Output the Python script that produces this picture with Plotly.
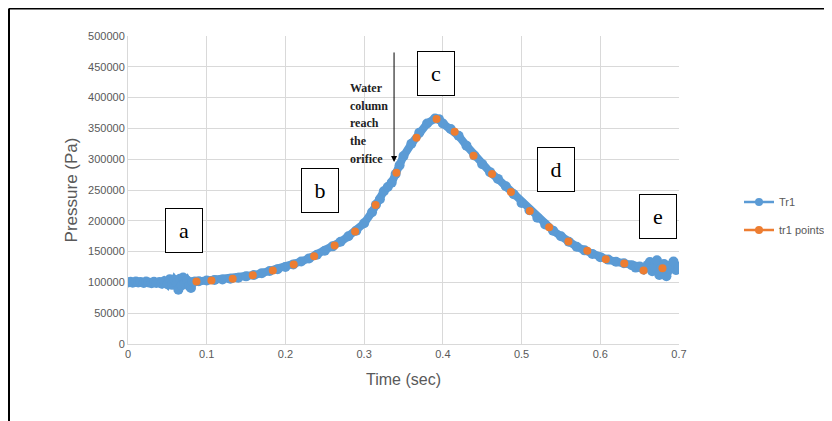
import plotly.graph_objects as go

tr1_t = [0.000, 0.003, 0.006, 0.010, 0.013, 0.016, 0.020, 0.023, 0.026, 0.030,
         0.033, 0.036, 0.040, 0.043, 0.046, 0.050, 0.053, 0.056, 0.059, 0.062,
         0.064, 0.066, 0.068, 0.070, 0.072, 0.075, 0.078, 0.080, 0.082, 0.085,
         0.09, 0.10, 0.11, 0.12, 0.13, 0.14, 0.15, 0.16, 0.17, 0.18,
         0.19, 0.20, 0.21, 0.22, 0.23, 0.24, 0.25, 0.26, 0.27, 0.28,
         0.29, 0.30, 0.31, 0.315, 0.32, 0.325, 0.33, 0.335, 0.34, 0.345,
         0.35, 0.36, 0.37, 0.38, 0.39, 0.395, 0.40, 0.41, 0.42, 0.43,
         0.44, 0.45, 0.46, 0.47, 0.48, 0.49, 0.50, 0.51, 0.52, 0.53,
         0.54, 0.55, 0.56, 0.57, 0.58, 0.59, 0.60, 0.61, 0.62, 0.63,
         0.64, 0.645, 0.65, 0.655, 0.66, 0.663, 0.666, 0.669, 0.672, 0.675,
         0.678, 0.681, 0.684, 0.687, 0.690, 0.693, 0.696, 0.699, 0.700]
tr1_p = [100000, 101000, 99500, 101500, 100000, 100500, 99000, 101500, 100000, 98500,
         101000, 99000, 100500, 98000, 102000, 97000, 105000, 96000, 104000, 99000,
         88000, 106000, 95000, 108000, 98000, 103000, 94000, 91000, 100500, 101500,
         102000, 103000, 104000, 104800, 105800, 107500, 109800, 112000, 115000, 118500,
         121500, 125000, 129000, 134000, 139000, 145000, 151500, 158500, 166000, 175000,
         184000, 196000, 214000, 226000, 235000, 248000, 255000, 262000, 276000, 290000,
         305000, 325000, 343000, 358000, 366000, 365000, 358000, 349000, 338000, 322000,
         306000, 292000, 279000, 268000, 256000, 243000, 229000, 217000, 205000, 194000,
         184000, 175000, 166000, 158000, 152000, 146000, 141000, 137000, 133500, 131000,
         128000, 124000, 126000, 121000, 128000, 133000, 118000, 126000, 136000, 112000,
         124000, 130000, 110000, 122000, 128000, 134000, 120000, 124000, 122000]

# tr1 points (sampled points)
pts_t = [0.087, 0.106, 0.133, 0.1585, 0.184, 0.2105, 0.2365, 0.2625, 0.2885, 0.3145,
         0.341, 0.3665, 0.392, 0.415, 0.439, 0.4625, 0.4865, 0.5105, 0.535, 0.5595,
         0.5835, 0.607, 0.6305, 0.655, 0.679]
pts_p = [101500, 103100, 105800, 111800, 119300, 129000, 142600, 159800, 182500, 225800,
         278100, 334900, 365100, 344600, 305700, 276000, 246800, 216000, 189600, 166300,
         151200, 137700, 130600, 119300, 123100]

y_ticks = [0, 50000, 100000, 150000, 200000, 250000, 300000, 350000, 400000, 450000, 500000]
y_tick_text = [str(v) for v in y_ticks]
x_ticks = [0, 0.1, 0.2, 0.3, 0.4, 0.5, 0.6, 0.7]
x_tick_text = ["0", "0.1", "0.2", "0.3", "0.4", "0.5", "0.6", "0.7"]

box_labels = ["a", "b", "c", "d", "e"]
box_t = [0.0714, 0.2442, 0.3919, 0.5439, 0.6733]
box_p = [184000, 249300, 438600, 282500, 207300]

note_lines = ["Water", "column", "reach", "the", "orifice"]

BLUE = "#5B9BD5"
ORANGE = "#ED7D31"
GRAY = "#595959"

# page body adds 8px margin; figure is drawn 8px in from window edge
W, H = 824, 413
L, T = 120, 28
PW, PH = 551, 308

fig = go.Figure()
fig.add_trace(go.Scatter(
    x=tr1_t, y=tr1_p, mode="lines+markers", name="Tr1", showlegend=False,
    line=dict(color=BLUE, width=8), marker=dict(color=BLUE, size=10)))
fig.add_trace(go.Scatter(
    x=pts_t, y=pts_p, mode="markers", name="tr1 points", showlegend=False,
    marker=dict(color=ORANGE, size=8)))
fig.add_trace(go.Scatter(
    x=[None], y=[None], mode="lines+markers", name="Tr1",
    line=dict(color=BLUE, width=2.5), marker=dict(color=BLUE, size=8),
    legend="legend"))
fig.add_trace(go.Scatter(
    x=[None], y=[None], mode="lines+markers", name="tr1 points",
    line=dict(color=ORANGE, width=2.5), marker=dict(color=ORANGE, size=8),
    legend="legend2"))

# Box labels
for lab, bt, bp in zip(box_labels, box_t, box_p):
    fig.add_annotation(x=bt, y=bp, xref="x", yref="y", text=lab, showarrow=False,
                       font=dict(family="Liberation Serif", size=22, color="black"),
                       bordercolor="black", borderwidth=1, borderpad=0,
                       bgcolor="white", width=36, height=43)

# Note text lines
note_y_px = [88.3, 106, 123.3, 141, 159.3]
for line, ypx in zip(note_lines, note_y_px):
    fig.add_annotation(x=(347.7 - 128) / PW, xref="paper", xanchor="left",
                       y=(344 - ypx) / PH, yref="paper", yanchor="middle",
                       text="<b>" + line + "</b>", showarrow=False,
                       font=dict(family="Liberation Serif", size=12, color="#222"))

# Arrow
fig.add_annotation(x=0.338, y=295500, xref="x", yref="y", text="",
                   showarrow=True, ax=0, ay=-111, arrowhead=2, arrowsize=1.2,
                   arrowwidth=1, arrowcolor="black")

# Outer frame lines
fx = (1 - L) / PW
fy = 1 + (T - 0.5) / PH
fig.add_shape(type="line", xref="paper", yref="paper",
              x0=fx, x1=fx, y0=-0.4, y1=fy, line=dict(color="black", width=2))
fig.add_shape(type="line", xref="paper", yref="paper",
              x0=fx, x1=1.4, y0=fy, y1=fy, line=dict(color="black", width=2))

fig.update_layout(
    width=W, height=H,
    margin=dict(l=L, r=W - L - PW, t=T, b=H - T - PH, autoexpand=False),
    paper_bgcolor="white", plot_bgcolor="white",
    font=dict(family="Liberation Sans", color=GRAY),
    legend=dict(x=(731 - L) / PW, y=(344 - 202) / PH, xanchor="left", yanchor="middle",
                font=dict(size=11, color=GRAY), bgcolor="rgba(0,0,0,0)"),
    legend2=dict(x=(731 - L) / PW, y=(344 - 230) / PH, xanchor="left", yanchor="middle",
                 font=dict(size=11, color=GRAY), bgcolor="rgba(0,0,0,0)"),
    xaxis=dict(range=[0, 0.7], tickvals=x_ticks, ticktext=x_tick_text,
               showgrid=True, gridcolor="#D9D9D9", gridwidth=1,
               showline=True, linecolor="#D9D9D9", linewidth=1, zeroline=False,
               tickfont=dict(size=11, color=GRAY), ticks="",
               title=dict(text="Time (sec)", font=dict(size=16, color=GRAY), standoff=14)),
    yaxis=dict(range=[0, 500000], tickvals=y_ticks, ticktext=y_tick_text,
               showgrid=True, gridcolor="#D9D9D9", gridwidth=1,
               showline=True, linecolor="#D9D9D9", zeroline=False,
               tickfont=dict(size=11, color=GRAY), ticks="",
               title=dict(text="Pressure (Pa)", font=dict(size=17, color=GRAY), standoff=6)),
)

fig.write_html("out.html")
